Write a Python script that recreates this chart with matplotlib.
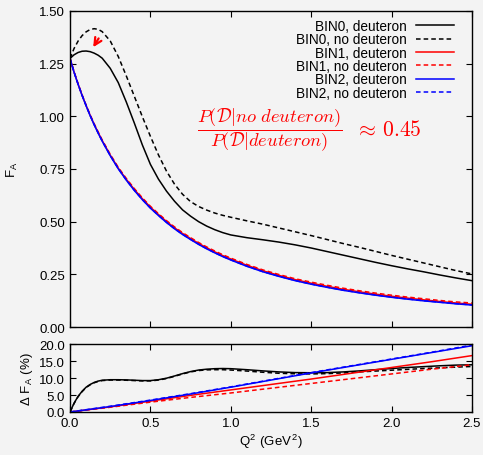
import numpy as np
import matplotlib
matplotlib.use("Agg")
import matplotlib.pyplot as plt

plt.rcParams['font.family'] = ['Liberation Sans', 'DejaVu Sans']
plt.rcParams['mathtext.fontset'] = 'cm'

# Q^2 grid (GeV^2) the curves were read at
q2 = [0.0, 0.025, 0.05, 0.075, 0.1, 0.125, 0.15, 0.175, 0.2, 0.25, 0.3, 0.35, 0.4,
      0.45, 0.5, 0.55, 0.6, 0.65, 0.7, 0.75, 0.8, 0.85, 0.9, 0.95, 1.0, 1.1, 1.2,
      1.3, 1.4, 1.5, 1.6, 1.7, 1.8, 1.9, 2.0, 2.1, 2.2, 2.3, 2.4, 2.5]

# Top panel: F_A
bin0_deut = [1.275, 1.292, 1.303, 1.309, 1.310, 1.307, 1.300, 1.290, 1.276, 1.228,
             1.160, 1.068, 0.968, 0.864, 0.772, 0.702, 0.645, 0.597, 0.556, 0.526,
             0.500, 0.479, 0.462, 0.448, 0.437, 0.424, 0.414, 0.403, 0.390, 0.375,
             0.358, 0.341, 0.324, 0.307, 0.291, 0.276, 0.262, 0.247, 0.233, 0.220]
bin0_nodeut = [1.275, 1.322, 1.357, 1.383, 1.401, 1.412, 1.416, 1.413, 1.402, 1.358,
               1.284, 1.192, 1.095, 0.998, 0.905, 0.817, 0.740, 0.678, 0.630, 0.595,
               0.572, 0.555, 0.541, 0.530, 0.521, 0.504, 0.488, 0.470, 0.452, 0.434,
               0.415, 0.396, 0.378, 0.359, 0.340, 0.322, 0.304, 0.286, 0.268, 0.252]
bin1_deut = [1.275, 1.210, 1.153, 1.100, 1.051, 1.005, 0.962, 0.923, 0.885, 0.816,
             0.754, 0.701, 0.653, 0.609, 0.569, 0.534, 0.501, 0.471, 0.444, 0.420,
             0.397, 0.376, 0.357, 0.339, 0.323, 0.293, 0.267, 0.245, 0.225, 0.208,
             0.193, 0.179, 0.167, 0.156, 0.146, 0.137, 0.129, 0.121, 0.114, 0.108]
bin1_nodeut = [1.275, 1.212, 1.155, 1.102, 1.053, 1.008, 0.965, 0.926, 0.888, 0.820,
               0.758, 0.705, 0.657, 0.613, 0.573, 0.538, 0.505, 0.475, 0.448, 0.424,
               0.401, 0.380, 0.361, 0.343, 0.327, 0.297, 0.271, 0.249, 0.229, 0.213,
               0.198, 0.184, 0.172, 0.161, 0.151, 0.142, 0.134, 0.126, 0.119, 0.114]
bin2_deut = [1.275, 1.209, 1.152, 1.099, 1.050, 1.003, 0.960, 0.920, 0.882, 0.813,
             0.751, 0.697, 0.648, 0.604, 0.564, 0.529, 0.496, 0.466, 0.439, 0.415,
             0.392, 0.371, 0.352, 0.334, 0.318, 0.288, 0.262, 0.240, 0.220, 0.203,
             0.188, 0.174, 0.162, 0.151, 0.141, 0.132, 0.124, 0.117, 0.110, 0.104]
bin2_nodeut = [1.275, 1.210, 1.153, 1.100, 1.051, 1.004, 0.961, 0.921, 0.883, 0.814,
               0.752, 0.698, 0.649, 0.605, 0.565, 0.530, 0.497, 0.467, 0.440, 0.416,
               0.393, 0.372, 0.353, 0.335, 0.319, 0.289, 0.263, 0.241, 0.221, 0.204,
               0.189, 0.175, 0.163, 0.152, 0.142, 0.133, 0.125, 0.118, 0.111, 0.105]

# Bottom panel: Delta F_A (%)
d_bin0_deut = [0.0, 2.6, 4.6, 6.1, 7.3, 8.1, 8.7, 9.1, 9.35, 9.5, 9.5, 9.45, 9.35,
               9.25, 9.25, 9.5, 9.95, 10.6, 11.3, 11.9, 12.35, 12.6, 12.75, 12.8,
               12.75, 12.45, 12.1, 11.8, 11.6, 11.55, 11.6, 11.8, 12.1, 12.45, 12.8,
               13.1, 13.35, 13.6, 13.8, 13.9]
d_bin0_nodeut = [0.0, 2.5, 4.5, 6.0, 7.2, 8.0, 8.6, 9.0, 9.25, 9.4, 9.4, 9.35, 9.25,
                 9.15, 9.15, 9.4, 9.85, 10.5, 11.2, 11.8, 12.2, 12.4, 12.45, 12.45,
                 12.35, 12.05, 11.7, 11.4, 11.25, 11.2, 11.3, 11.5, 11.8, 12.05, 12.3,
                 12.55, 12.8, 13.0, 13.2, 13.4]
q2_lin = [0.0, 0.25, 0.5, 0.75, 1.0, 1.25, 1.5, 1.75, 2.0, 2.25, 2.5]
d_bin1_deut = [0.0, 1.5, 3.2, 4.9, 6.5, 8.1, 9.7, 11.4, 13.1, 14.8, 16.6]
d_bin1_nodeut = [0.0, 1.4, 2.9, 4.3, 5.6, 7.0, 8.4, 9.8, 11.2, 12.6, 13.9]
d_bin2_deut = [0.0, 1.6, 3.4, 5.3, 7.3, 9.4, 11.5, 13.5, 15.5, 17.5, 19.5]
d_bin2_nodeut = [0.0, 1.7, 3.5, 5.4, 7.4, 9.5, 11.6, 13.6, 15.6, 17.6, 19.7]

dash = (0, (3, 2))
bg = '#f3f3f3'

fig = plt.figure(figsize=(4.83, 4.56), dpi=100, facecolor=bg)
ax = fig.add_axes([0.145, 0.2807, 0.832, 0.693], facecolor=bg)
ax2 = fig.add_axes([0.145, 0.0943, 0.832, 0.149], facecolor=bg)

lw = 1.1
ax.plot(q2, bin0_deut, color='black', lw=lw, label='BIN0, deuteron')
ax.plot(q2, bin0_nodeut, color='black', lw=lw, ls=dash, label='BIN0, no deuteron')
ax.plot(q2, bin1_deut, color='red', lw=lw, label='BIN1, deuteron')
ax.plot(q2, bin1_nodeut, color='red', lw=lw, ls=dash, label='BIN1, no deuteron')
ax.plot(q2, bin2_deut, color='blue', lw=lw, label='BIN2, deuteron')
ax.plot(q2, bin2_nodeut, color='blue', lw=lw, ls=dash, label='BIN2, no deuteron')

ax2.plot(q2, d_bin0_deut, color='black', lw=lw)
ax2.plot(q2, d_bin0_nodeut, color='black', lw=lw, ls=dash)
ax2.plot(q2_lin, d_bin1_deut, color='red', lw=lw)
ax2.plot(q2_lin, d_bin1_nodeut, color='red', lw=lw, ls=dash)
ax2.plot(q2_lin, d_bin2_deut, color='blue', lw=lw)
ax2.plot(q2_lin, d_bin2_nodeut, color='blue', lw=lw, ls=dash)

ax.set_xlim(0, 2.5)
ax.set_ylim(0, 1.5)
ax.set_yticks(np.arange(0, 1.51, 0.25))
ax.set_yticklabels(['%.2f' % v for v in np.arange(0, 1.51, 0.25)])
ax.set_xticks(np.arange(0, 2.51, 0.5))
ax.set_xticklabels([])
ax.set_ylabel('F$_\\mathregular{A}$', fontsize=9.5, labelpad=14)

ax2.set_xlim(0, 2.5)
ax2.set_ylim(0, 20)
ax2.set_yticks([0, 5, 10, 15, 20])
ax2.set_yticklabels(['0.0', '5.0', '10.0', '15.0', '20.0'])
ax2.set_xticks(np.arange(0, 2.51, 0.5))
ax2.set_xticklabels(['0.0', '0.5', '1.0', '1.5', '2.0', '2.5'])
ax2.set_ylabel('$\\mathregular{\\Delta}$ F$_\\mathregular{A}$ (%)', fontsize=9.5, labelpad=3)
ax2.set_xlabel('Q$^\\mathregular{2}$ (GeV$^\\mathregular{2}$)', fontsize=9.5, labelpad=2)

for a in (ax, ax2):
    a.tick_params(direction='in', top=True, right=True, labelsize=9.5, length=4, width=0.8)
    for s in a.spines.values():
        s.set_linewidth(1.0)

ax.legend(loc='upper right', frameon=False, markerfirst=False, fontsize=9.8,
          handlelength=2.8, labelspacing=-0.05, borderaxespad=0.2, handletextpad=0.65,
          bbox_to_anchor=(0.975, 1.0))

ax.text(1.245, 0.938, r'$\dfrac{P(\mathcal{D}|no\ deuteron)}{P(\mathcal{D}|deuteron)}$',
        color='red', fontsize=13.3, ha='center', va='center')
ax.text(1.77, 0.909, r'$\approx\,0.45$', color='red', fontsize=15.5,
        ha='left', va='baseline')

ax.annotate('', xy=(0.135, 1.317), xytext=(0.187, 1.381),
            arrowprops=dict(arrowstyle='->', color='red', lw=1.6, mutation_scale=13))

fig.savefig('out.png', dpi=100, facecolor=bg)
